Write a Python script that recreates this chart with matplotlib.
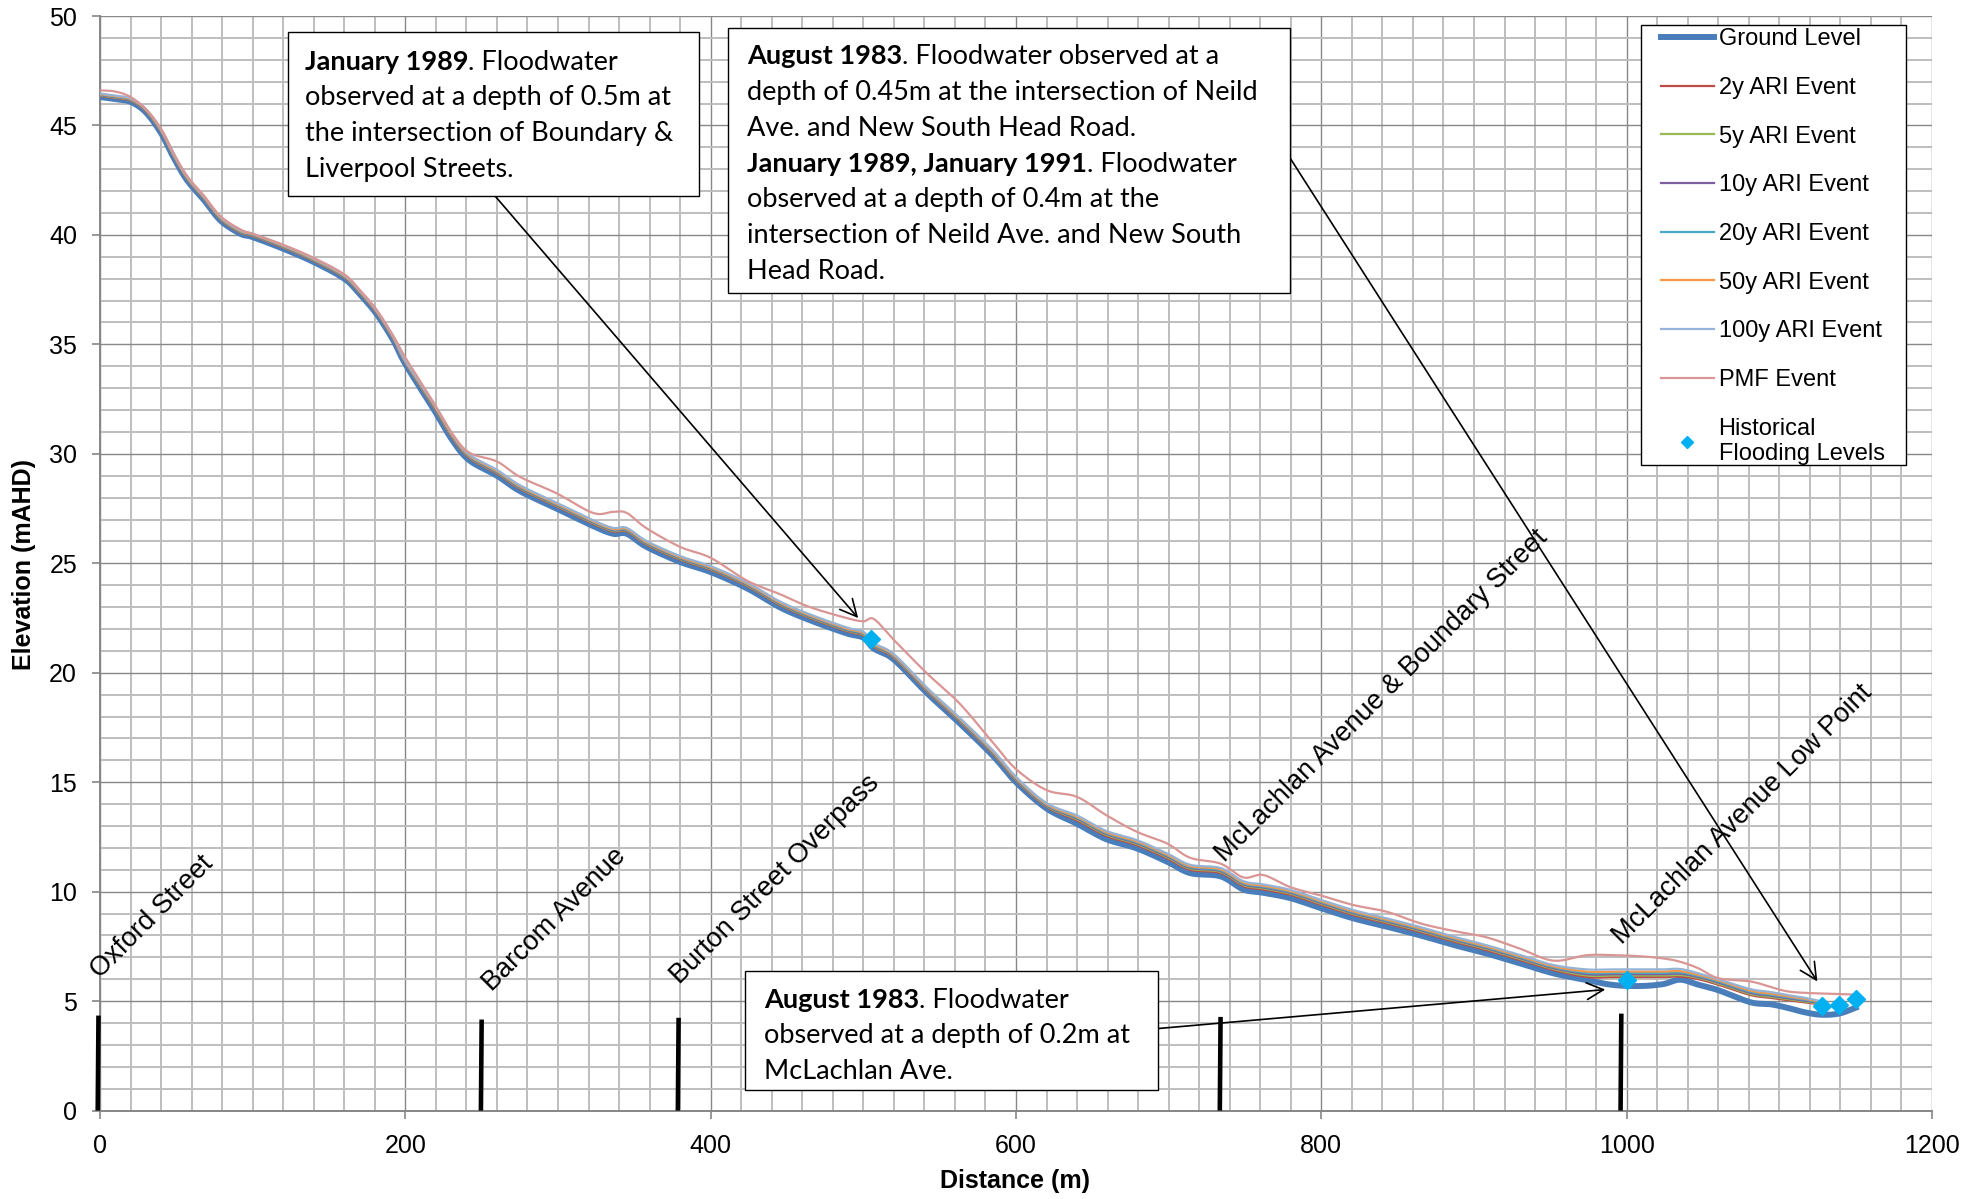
import numpy as np
import matplotlib
matplotlib.use('Agg')
import matplotlib.pyplot as plt
from matplotlib.patches import Rectangle

plt.rcParams['font.family'] = ['Liberation Sans', 'DejaVu Sans']

# ---- long section data (chainage in m, levels in mAHD) ----
distance = [0, 10, 20, 30, 40, 48, 57, 68, 79, 92,
            100, 120, 140, 160, 170, 181, 192, 200, 218, 231,
            242, 260, 275, 299, 323, 336, 345, 358, 380, 400,
            424, 445, 465, 489, 500, 507, 520, 542, 563, 585,
            600, 620, 640, 659, 679, 699, 714, 734, 749, 762,
            780, 800, 821, 843, 865, 887, 908, 930, 952, 974,
            991, 1009, 1024, 1035, 1047, 1060, 1081, 1094, 1105, 1116,
            1127, 1139, 1150]

ground = [46.30, 46.20, 46.08, 45.60, 44.65, 43.56, 42.50, 41.60, 40.65, 40.05,
          39.90, 39.37, 38.76, 38.00, 37.30, 36.40, 35.20, 34.10, 32.10, 30.60,
          29.70, 29.00, 28.30, 27.50, 26.70, 26.35, 26.35, 25.75, 25.06, 24.60,
          23.85, 23.00, 22.40, 21.80, 21.60, 21.10, 20.60, 19.05, 17.70, 16.20,
          15.00, 13.80, 13.10, 12.40, 11.98, 11.37, 10.85, 10.70, 10.10, 9.95,
          9.70, 9.24, 8.78, 8.40, 8.00, 7.56, 7.18, 6.73, 6.27, 5.96,
          5.74, 5.69, 5.78, 5.98, 5.75, 5.50, 4.95, 4.86, 4.70, 4.50,
          4.38, 4.43, 4.70]

ari_2y = [46.35, 46.25, 46.13, 45.65, 44.70, 43.61, 42.55, 41.65, 40.70, 40.10,
          39.95, 39.42, 38.81, 38.05, 37.35, 36.45, 35.25, 34.15, 32.20, 30.70,
          29.80, 29.10, 28.40, 27.60, 26.80, 26.45, 26.45, 25.85, 25.16, 24.70,
          23.95, 23.10, 22.50, 21.90, 21.70, 21.18, 20.68, 19.13, 17.78, 16.28,
          15.08, 13.88, 13.25, 12.55, 12.13, 11.52, 11.00, 10.85, 10.25, 10.10,
          9.85, 9.39, 8.93, 8.55, 8.15, 7.71, 7.33, 6.88, 6.42, 6.10,
          6.10, 6.10, 6.10, 6.12, 6.00, 5.75, 5.28, 5.15, 5.05, 4.95,
          4.85]

ari_5y = [46.37, 46.27, 46.15, 45.67, 44.72, 43.63, 42.57, 41.67, 40.72, 40.12,
          39.97, 39.44, 38.83, 38.07, 37.37, 36.47, 35.27, 34.17, 32.23, 30.73,
          29.83, 29.13, 28.43, 27.63, 26.83, 26.48, 26.48, 25.88, 25.19, 24.73,
          23.98, 23.13, 22.53, 21.93, 21.73, 21.21, 20.71, 19.16, 17.81, 16.31,
          15.11, 13.91, 13.30, 12.60, 12.18, 11.57, 11.05, 10.90, 10.30, 10.15,
          9.90, 9.44, 8.98, 8.60, 8.20, 7.76, 7.38, 6.93, 6.47, 6.17,
          6.17, 6.17, 6.17, 6.19, 6.06, 5.80, 5.33, 5.20, 5.10, 4.99,
          4.88]

ari_10y = [46.39, 46.29, 46.17, 45.69, 44.74, 43.65, 42.59, 41.69, 40.74, 40.14,
           39.99, 39.46, 38.85, 38.09, 37.39, 36.49, 35.29, 34.19, 32.26, 30.76,
           29.86, 29.16, 28.46, 27.66, 26.86, 26.51, 26.51, 25.91, 25.22, 24.76,
           24.01, 23.16, 22.56, 21.96, 21.76, 21.24, 20.74, 19.19, 17.84, 16.34,
           15.14, 13.94, 13.34, 12.64, 12.22, 11.61, 11.09, 10.94, 10.34, 10.19,
           9.94, 9.48, 9.02, 8.64, 8.24, 7.80, 7.42, 6.97, 6.51, 6.23,
           6.23, 6.23, 6.23, 6.25, 6.10, 5.85, 5.38, 5.25, 5.14, 5.03,
           4.91]

ari_20y = [46.41, 46.31, 46.19, 45.71, 44.76, 43.67, 42.61, 41.71, 40.76, 40.16,
           40.01, 39.48, 38.87, 38.11, 37.41, 36.51, 35.31, 34.21, 32.29, 30.79,
           29.89, 29.19, 28.49, 27.69, 26.89, 26.54, 26.54, 25.94, 25.25, 24.79,
           24.04, 23.19, 22.59, 21.99, 21.79, 21.27, 20.77, 19.22, 17.87, 16.37,
           15.17, 13.97, 13.38, 12.68, 12.26, 11.65, 11.13, 10.98, 10.38, 10.23,
           9.98, 9.52, 9.06, 8.68, 8.28, 7.84, 7.46, 7.01, 6.55, 6.29,
           6.29, 6.29, 6.29, 6.31, 6.15, 5.90, 5.43, 5.30, 5.18, 5.07,
           4.94]

ari_50y = [46.43, 46.33, 46.21, 45.73, 44.78, 43.69, 42.63, 41.73, 40.78, 40.18,
           40.03, 39.50, 38.89, 38.13, 37.43, 36.53, 35.33, 34.23, 32.32, 30.82,
           29.92, 29.22, 28.52, 27.72, 26.92, 26.57, 26.57, 25.97, 25.28, 24.82,
           24.07, 23.22, 22.62, 22.02, 21.82, 21.30, 20.80, 19.25, 17.90, 16.40,
           15.20, 14.00, 13.42, 12.72, 12.30, 11.69, 11.17, 11.02, 10.42, 10.27,
           10.02, 9.56, 9.10, 8.72, 8.32, 7.88, 7.50, 7.05, 6.59, 6.35,
           6.35, 6.35, 6.35, 6.37, 6.20, 5.95, 5.48, 5.35, 5.22, 5.11,
           4.97]

ari_100y = [46.46, 46.36, 46.24, 45.76, 44.81, 43.72, 42.66, 41.76, 40.81, 40.21,
            40.06, 39.53, 38.92, 38.16, 37.46, 36.56, 35.36, 34.26, 32.37, 30.87,
            29.97, 29.27, 28.57, 27.77, 26.97, 26.62, 26.62, 26.02, 25.33, 24.87,
            24.12, 23.27, 22.67, 22.07, 21.87, 21.35, 20.85, 19.30, 17.95, 16.45,
            15.25, 14.05, 13.48, 12.78, 12.36, 11.75, 11.23, 11.08, 10.48, 10.33,
            10.08, 9.62, 9.16, 8.78, 8.38, 7.94, 7.56, 7.11, 6.65, 6.45,
            6.45, 6.45, 6.45, 6.47, 6.27, 6.00, 5.55, 5.42, 5.28, 5.16,
            5.00]

pmf = [46.60, 46.55, 46.30, 45.75, 44.85, 43.75, 42.70, 41.80, 40.85, 40.25,
       40.05, 39.55, 38.95, 38.20, 37.50, 36.60, 35.40, 34.40, 32.40, 30.90,
       30.05, 29.65, 28.95, 28.20, 27.30, 27.35, 27.30, 26.60, 25.75, 25.25,
       24.20, 23.60, 23.00, 22.50, 22.35, 22.45, 21.50, 19.95, 18.60, 16.80,
       15.60, 14.64, 14.33, 13.50, 12.74, 12.20, 11.55, 11.28, 10.65, 10.76,
       10.20, 9.82, 9.39, 9.08, 8.55, 8.20, 7.92, 7.40, 6.85, 7.10,
       7.10, 7.05, 6.95, 6.80, 6.50, 6.05, 5.90, 5.65, 5.45, 5.38,
       5.35, 5.32, 5.30]

hist_x = [505, 1000, 1128, 1139, 1150]
hist_y = [21.55, 5.95, 4.80, 4.82, 5.10]

streets = ["Oxford Street", "Barcom Avenue", "Burton Street Overpass",
           "McLachlan Avenue & Boundary Street", "McLachlan Avenue Low Point"]
street_x = [-1.5, 249.5, 378.5, 733.5, 996.0]
street_top = [4.34, 4.16, 4.24, 4.28, 4.43]
street_label_xy = [(0, 6.0), (257, 5.4), (379.5, 5.75), (737, 11.3), (997, 7.55)]


def smooth(x, y, n=10):
    # Excel style smoothed line (Catmull-Rom through the points)
    p = np.column_stack([x, y]).astype(float)
    p = np.vstack([p[0], p, p[-1]])
    t = np.linspace(0, 1, n, endpoint=False)[:, None]
    out = []
    for i in range(1, len(p) - 2):
        p0, p1, p2, p3 = p[i - 1], p[i], p[i + 1], p[i + 2]
        out.append(0.5 * (2 * p1 + (p2 - p0) * t
                          + (2 * p0 - 5 * p1 + 4 * p2 - p3) * t ** 2
                          + (3 * p1 - p0 - 3 * p2 + p3) * t ** 3))
    out.append(p[-2][None])
    out = np.vstack(out)
    return out[:, 0], out[:, 1]


W, H = 1979, 1199
fig = plt.figure(figsize=(W / 100, H / 100), dpi=100)
ax = fig.add_axes([100 / W, 1 - 1110.6 / H, 1832 / W, (1110.6 - 16) / H])
ax.set_xlim(0, 1200)
ax.set_ylim(0, 50)
ax.set_xticks(np.arange(0, 1201, 200))
ax.set_xticks(np.arange(0, 1201, 20), minor=True)
ax.set_yticks(np.arange(0, 51, 5))
ax.set_yticks(np.arange(0, 51, 1), minor=True)
ax.grid(which='minor', color='#bebebe', lw=1.4)
ax.grid(which='major', color='#888888', lw=1.0)
ax.set_axisbelow(True)
for s in ['top', 'right']:
    ax.spines[s].set_visible(False)
for s in ['left', 'bottom']:
    ax.spines[s].set_color('#868686')
    ax.spines[s].set_linewidth(1.4)
ax.tick_params(which='major', length=6, width=1.2, color='#868686', labelsize=18, pad=10.5)
ax.tick_params(which='minor', length=0)

gx, gy = smooth(distance, ground)
ax.plot(gx, gy, color='#4a7ebb', lw=4.3, label='Ground Level', zorder=3)

series = [(ari_2y, '#be4b48', '2y ARI Event'),
          (ari_5y, '#98b954', '5y ARI Event'),
          (ari_10y, '#7d60a0', '10y ARI Event'),
          (ari_20y, '#46aac5', '20y ARI Event'),
          (ari_50y, '#f79646', '50y ARI Event'),
          (ari_100y, '#95b3d7', '100y ARI Event')]
for vals, col, lab in series:
    sx, sy = smooth(distance[:len(vals)], vals)
    ax.plot(sx, sy, color=col, lw=1.6, label=lab, zorder=4)

px, py = smooth(distance, pmf)
ax.plot(px, py, color='#d99694', lw=1.6, label='PMF Event', zorder=4)

ax.plot(hist_x, hist_y, ls='none', marker='D', ms=9, color='#00b0f0',
        label='Historical\nFlooding Levels', zorder=6)

# street markers
for name, sx, top, (lx, ly) in zip(streets, street_x, street_top, street_label_xy):
    ax.plot([sx, sx + 0.5], [0, top], color='black', lw=3.3, solid_capstyle='butt',
            zorder=5, clip_on=False)
    ax.text(lx, ly, name, rotation=45, rotation_mode='anchor', ha='left',
            va='baseline', fontsize=19.5)

# axis titles
fig.text(24 / W, 1 - 565 / H, 'Elevation (mAHD)', rotation=90, ha='center', va='center',
         fontsize=18, fontweight='bold')
fig.text(1015 / W, 1 - 1181 / H, 'Distance (m)', ha='center', va='center',
         fontsize=18, fontweight='bold')

# legend
handles, labels = ax.get_legend_handles_labels()
fig.add_artist(Rectangle((1641 / W, 1 - 465 / H), 265 / W, 440 / H, transform=fig.transFigure,
                         fc='white', ec='black', lw=1.0, zorder=4))
fig.legend(handles, labels, loc='upper left', bbox_to_anchor=(1656 / W, 1 - 23.5 / H),
           frameon=False, fontsize=17, handlelength=2.25, handletextpad=0.2,
           labelspacing=1.13, borderpad=0.2, borderaxespad=0, markerscale=0.65)

# annotation boxes
box_font = dict(family=['Lato', 'DejaVu Sans'], fontsize=19.5, color='black', va='baseline', ha='left')
line_h = 35.7
boxes = [
    ((288, 32, 699, 196), 305, 69.5,
     [("January 1989", ". Floodwater"),
      ("", "observed at a depth of 0.5m at"),
      ("", "the intersection of Boundary &"),
      ("", "Liverpool Streets.")]),
    ((728, 28, 1290, 293), 747, 64.5,
     [("August 1983", ". Floodwater observed at a"),
      ("", "depth of 0.45m at the intersection of Neild"),
      ("", "Ave. and New South Head Road."),
      ("January 1989, January 1991", ". Floodwater"),
      ("", "observed at a depth of 0.4m at the"),
      ("", "intersection of Neild Ave. and New South"),
      ("", "Head Road.")]),
    ((745, 971, 1158, 1090), 764, 1007.5,
     [("August 1983", ". Floodwater"),
      ("", "observed at a depth of 0.2m at"),
      ("", "McLachlan Ave.")]),
]
renderer = fig.canvas.get_renderer()
for (x0, y0, x1, y1), tx, ty, lines in boxes:
    fig.add_artist(Rectangle((x0 / W, 1 - y1 / H), (x1 - x0) / W, (y1 - y0) / H,
                             transform=fig.transFigure, fc='white', ec='black', lw=1.0, zorder=3))
    for i, (bold, rest) in enumerate(lines):
        yy = 1 - (ty + i * line_h) / H
        xx = tx / W
        if bold:
            t = fig.text(xx, yy, bold, fontweight='bold', zorder=4, **box_font)
            xx = t.get_window_extent(renderer=renderer).x1 / W
        fig.text(xx, yy, rest, zorder=4, **box_font)

# arrows from the boxes to the observed levels
arrows = [((494.7, 195.6), (496.6, 22.5)),
          ((1289.9, 157.8), (1124.9, 5.9)),
          ((1157.3, 1028.6), (986.0, 5.53))]
for (tx, ty), head in arrows:
    ax.annotate('', xy=head, xycoords='data', xytext=(tx, H - ty), textcoords='figure pixels',
                arrowprops=dict(arrowstyle='->,head_length=0.6,head_width=0.3', color='black',
                                lw=1.2, shrinkA=0, shrinkB=0, mutation_scale=20), zorder=7)

fig.savefig('out.png', dpi=100)
